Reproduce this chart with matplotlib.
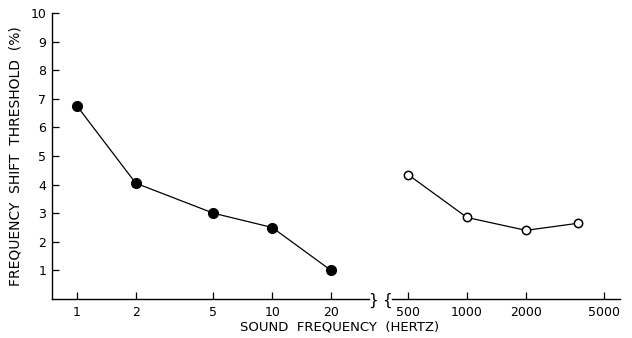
import numpy as np
import matplotlib
matplotlib.use("Agg")
import matplotlib.pyplot as plt

# low frequency series (filled circles)
low_freq = [1, 2, 5, 10, 20]
low_thresh = [6.75, 4.05, 3.0, 2.5, 1.0]

# high frequency series (open circles)
high_freq = [500, 1000, 2000, 3700]
high_thresh = [4.35, 2.85, 2.4, 2.65]

low_ticks = [1, 2, 5, 10, 20]
low_ticklabels = ["1", "2", "5", "10", "20"]
high_ticks = [500, 1000, 2000, 5000]
high_ticklabels = ["500", "1000", "2000", "5000"]
y_ticks = list(range(1, 11))

plt.rcParams['font.family'] = ['DejaVu Sans']
fig = plt.figure(figsize=(6.32, 3.38), dpi=100)

W, H = 632.0, 338.0
bottom = (H - 299) / H
height = (299 - 13) / H
ax1 = fig.add_axes([52 / W, bottom, (369 - 52) / W, height])
ax2 = fig.add_axes([392 / W, bottom, (620 - 392) / W, height])

for ax in (ax1, ax2):
    ax.set_xscale('log')
    ax.set_ylim(0, 10)
    ax.spines['top'].set_visible(False)
    ax.spines['right'].set_visible(False)
    ax.spines['bottom'].set_linewidth(1.0)
    ax.minorticks_off()
    ax.tick_params(axis='x', direction='in', length=5, width=0.9,
                   labelsize=9, pad=5)

ax1.plot(low_freq, low_thresh, color='black', lw=0.9, marker='o',
         markersize=7, markerfacecolor='black', markeredgecolor='black')
ax1.set_xlim(0.745, 31.3)
ax1.set_xticks(low_ticks)
ax1.set_xticklabels(low_ticklabels)
ax1.set_yticks(y_ticks)
ax1.set_yticklabels([str(v) for v in y_ticks])
ax1.tick_params(axis='y', direction='in', length=5, width=0.9,
                labelsize=9, pad=4)
ax1.spines['left'].set_linewidth(1.0)
ax1.set_ylabel("FREQUENCY  SHIFT  THRESHOLD  (%)", fontsize=10, labelpad=6)

ax2.plot(high_freq, high_thresh, color='black', lw=0.9, marker='o',
         markersize=6, markerfacecolor='white', markeredgecolor='black',
         markeredgewidth=1.1)
ax2.set_xlim(414, 6036)
ax2.set_xticks(high_ticks)
ax2.set_xticklabels(high_ticklabels)
ax2.spines['left'].set_visible(False)
ax2.set_yticks([])
ax2.patch.set_alpha(0)

# axis break marks
fig.text(373 / W, (H - 300) / H, "}", fontsize=11, ha='center', va='center')
fig.text(387 / W, (H - 300) / H, "{", fontsize=11, ha='center', va='center')

fig.text(340 / W, (H - 327) / H, "SOUND  FREQUENCY  (HERTZ)", fontsize=9.5,
         ha='center', va='center')

fig.savefig("out.png", dpi=100)
